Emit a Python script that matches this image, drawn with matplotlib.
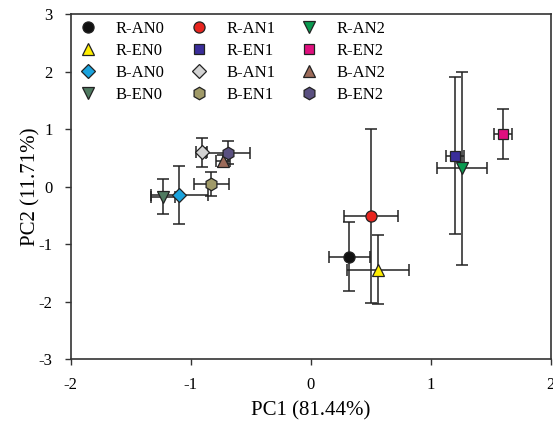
import numpy as np
import matplotlib
matplotlib.use("Agg")
import matplotlib.pyplot as plt

plt.rcParams['font.family'] = ['Liberation Serif', 'DejaVu Serif']
plt.rcParams['axes.unicode_minus'] = False

# group names, PCA scores and standard deviations
labels = ['R-AN0', 'R-EN0', 'B-AN0', 'B-EN0',
          'R-AN1', 'R-EN1', 'B-AN1', 'B-EN1',
          'R-AN2', 'R-EN2', 'B-AN2', 'B-EN2']
pc1 = [0.32, 0.56, -1.095, -1.23,
       0.50, 1.20, -0.91, -0.83,
       1.26, 1.60, -0.73, -0.69]
pc2 = [-1.22, -1.44, -0.145, -0.17,
       -0.51, 0.54, 0.60, 0.05,
       0.32, 0.92, 0.45, 0.59]
pc1_err = [0.17, 0.255, 0.24, 0.10,
           0.225, 0.075, 0.045, 0.145,
           0.21, 0.075, 0.06, 0.18]
pc2_err = [0.60, 0.60, 0.50, 0.30,
           1.52, 1.37, 0.25, 0.21,
           1.68, 0.44, 0.10, 0.20]

markers = ['o', '^', 'D', 'v',
           'o', 's', 'D', 'h',
           'v', 's', '^', 'h']
colors = ['#111111', '#ffee00', '#1aa3dd', '#4f7a60',
          '#e8251f', '#3a2d9a', '#d3d3d3', '#a09a68',
          '#0a9a50', '#e0107f', '#9c6b5a', '#5a5080']
sizes = [8, 8.5, 7.5, 8.5, 8, 7, 7.5, 9, 8.5, 7, 8.5, 9]

fig = plt.figure(figsize=(5.53, 4.25), dpi=100)
ax = fig.add_axes([0.128, 0.155, 0.868, 0.811])

for i in range(len(labels)):
    ax.errorbar(pc1[i], pc2[i], xerr=pc1_err[i], yerr=pc2_err[i],
                fmt='none', ecolor='#222222', elinewidth=1.1,
                capsize=4, capthick=1.1, zorder=2)
    ax.plot(pc1[i], pc2[i], linestyle='none', marker=markers[i],
            ms=sizes[i], mfc=colors[i],
            mec='#222222', mew=0.9, label=labels[i], zorder=3)

ax.set_xlim(-2, 2)
ax.set_ylim(-3, 3)
ax.set_xticks([-2, -1, 0, 1, 2])
ax.set_yticks([-3, -2, -1, 0, 1, 2, 3])
ax.tick_params(direction='out', length=4, width=1, labelsize=12,
               color='#333333', top=False, right=False, pad=9)
for s in ax.spines.values():
    s.set_color('#333333')
    s.set_linewidth(1.2)

ax.set_xlabel('PC1 (81.44%)', fontsize=15, labelpad=6)
ax.set_ylabel('PC2 (11.71%)', fontsize=15, labelpad=-1)

ax.legend(ncol=3, loc='upper left', frameon=False, fontsize=12,
          handlelength=1.3, handletextpad=1.0, columnspacing=1.4,
          labelspacing=0.35, borderpad=0.2, borderaxespad=0.2)

fig.savefig('out.png', dpi=100)
